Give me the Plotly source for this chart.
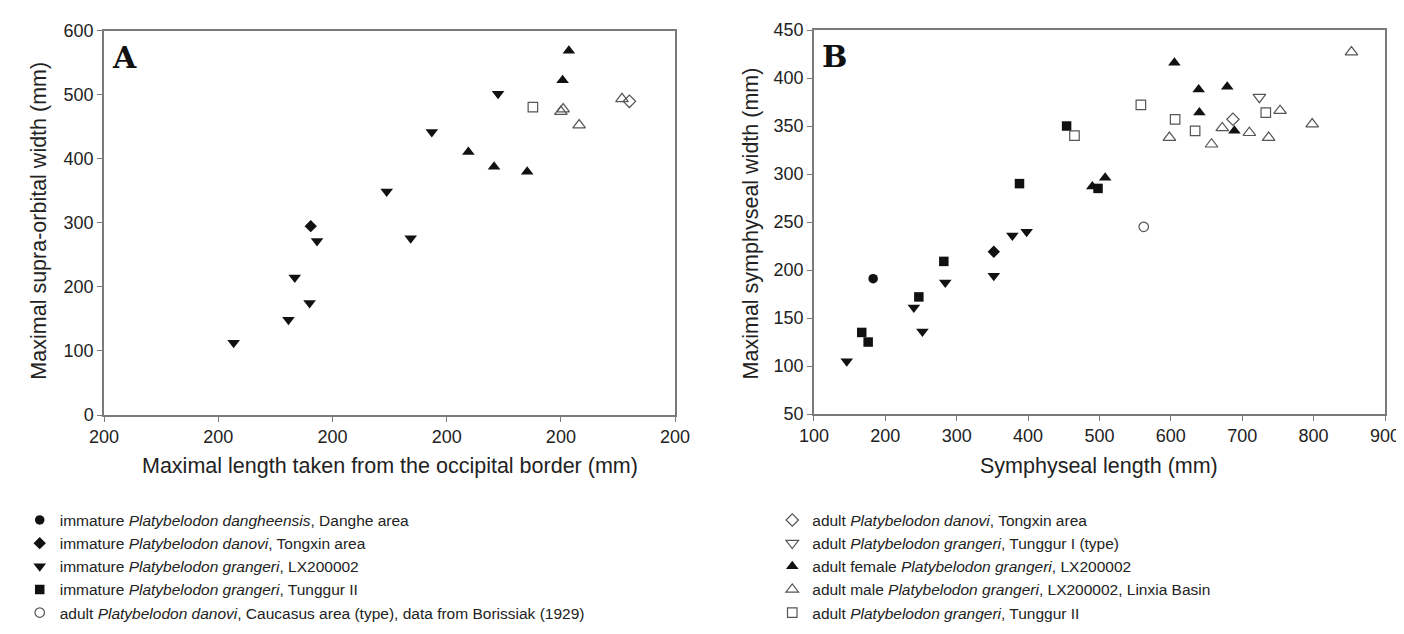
import plotly.graph_objects as go

# ---------------- data ----------------
labels = [
    "immature <i>Platybelodon dangheensis</i>, Danghe area",
    "immature <i>Platybelodon danovi</i>, Tongxin area",
    "immature <i>Platybelodon grangeri</i>, LX200002",
    "immature <i>Platybelodon grangeri</i>, Tunggur II",
    "adult <i>Platybelodon danovi</i>, Caucasus area (type), data from Borissiak (1929)",
    "adult <i>Platybelodon danovi</i>, Tongxin area",
    "adult <i>Platybelodon grangeri</i>, Tunggur I (type)",
    "adult female <i>Platybelodon grangeri</i>, LX200002",
    "adult male <i>Platybelodon grangeri</i>, LX200002, Linxia Basin",
    "adult <i>Platybelodon grangeri</i>, Tunggur II",
]
symbols = ["circle", "diamond", "triangle-down", "square", "circle-open",
           "diamond-open", "triangle-down-open", "triangle-up", "triangle-up-open", "square-open"]

# Panel A: maximal length from occipital border (x) vs supra-orbital width (y)
a_x = [[], [562], [427, 523, 534, 560, 573, 695, 737, 774, 890], [], [],
       [1120], [], [838, 883, 941, 1003, 1014], [1000, 1004, 1032, 1107], [951]]
a_y = [[], [295], [113, 149, 215, 175, 272, 349, 276, 442, 502], [], [],
       [490], [], [411, 388, 380, 523, 569], [474, 478, 453, 494], [481]]

# Panel B: symphyseal length (x) vs symphyseal width (y)
b_x = [[183], [352], [146, 240, 252, 284, 352, 378, 398],
       [167, 176, 247, 282, 388, 454, 498], [562], [687], [724],
       [490, 508, 605, 639, 640, 679, 689],
       [598, 657, 672, 710, 737, 753, 798, 853],
       [465, 558, 606, 634, 733]]
b_y = [[191], [219], [105, 161, 136, 187, 194, 236, 240],
       [135, 125, 172, 209, 290, 350, 285], [245], [357], [380],
       [287, 296, 416, 388, 364, 391, 345],
       [338, 331, 348, 343, 338, 366, 352, 427],
       [340, 372, 357, 345, 364]]

a_ticks = [200, 400, 600, 800, 1000, 1200]
a_ticktext = ["200", "200", "200", "200", "200", "200"]
b_xticks = [100, 200, 300, 400, 500, 600, 700, 800, 900]

# ---------------- figure ----------------
W, H = 1404, 634
ml, mr, mt, mb = 85, 27, 16, 213
pw = W - ml - mr
ph = H - mt - mb

def px_x(p):
    return (p - ml) / pw

def px_y(p):
    return (H - mb - p) / ph

fig = go.Figure()
font_fam = "Liberation Sans, Arial, sans-serif"
black = "#111111"
grey = "#555555"

for i, (lab, sym) in enumerate(zip(labels, symbols)):
    is_open = sym.endswith("open")
    is_tri = "triangle" in sym
    msize = 11 if is_tri else 9.5
    marker = dict(symbol=sym, size=msize,
                  color=grey if is_open else black,
                  line=dict(width=1.2 if is_open else 0, color=grey if is_open else black))
    if a_x[i]:
        fig.add_trace(go.Scatter(x=a_x[i], y=a_y[i], mode="markers", marker=marker,
                                 xaxis="x", yaxis="y", showlegend=False, name=lab))
    fig.add_trace(go.Scatter(x=b_x[i], y=b_y[i], mode="markers", marker=marker,
                             xaxis="x2", yaxis="y2", name=lab, showlegend=True,
                             legend="legend" if i < 5 else "legend2"))

axis_common = dict(showline=True, linecolor="#7a7a7a", linewidth=1.5, mirror=True,
                   ticks="outside", ticklen=5, tickcolor="#7a7a7a", tickwidth=1.2,
                   showgrid=False, zeroline=False,
                   tickfont=dict(family=font_fam, size=18, color="#222222"))

fig.update_layout(
    width=W, height=H,
    margin=dict(l=ml, r=mr, t=mt, b=mb),
    paper_bgcolor="white", plot_bgcolor="white",
    xaxis=dict(domain=[0, px_x(661)], range=[200, 1200], tickvals=a_ticks,
               ticktext=a_ticktext, anchor="y", **axis_common),
    yaxis=dict(domain=[0, px_y(17)], range=[0, 600], dtick=100, anchor="x", **axis_common),
    xaxis2=dict(domain=[px_x(801), 1], range=[100, 900], tickvals=b_xticks,
                anchor="y2", **axis_common),
    yaxis2=dict(domain=[px_y(420), 1], range=[50, 450], dtick=50, anchor="x2", **axis_common),
    legend=dict(x=px_x(0), y=px_y(514), xanchor="left", yanchor="top",
                font=dict(family=font_fam, size=15.5, color="#222222"),
                bgcolor="rgba(0,0,0,0)", borderwidth=0, tracegroupgap=0),
    legend2=dict(x=px_x(759), y=px_y(514), xanchor="left", yanchor="top",
                 font=dict(family=font_fam, size=15.5, color="#222222"),
                 bgcolor="rgba(0,0,0,0)", borderwidth=0, tracegroupgap=0),
)

ann_font = dict(family=font_fam, size=21.5, color="#222222")
fig.add_annotation(text="Maximal length taken from the occipital border (mm)",
                   x=px_x(373), y=px_y(475), xref="paper", yref="paper",
                   showarrow=False, font=ann_font, xanchor="center", yanchor="middle")
fig.add_annotation(text="Symphyseal length (mm)",
                   x=px_x(1089), y=px_y(475), xref="paper", yref="paper",
                   showarrow=False, font=ann_font, xanchor="center", yanchor="middle")
fig.add_annotation(text="Maximal supra-orbital width (mm)",
                   x=px_x(20), y=px_y(217), xref="paper", yref="paper", textangle=-90,
                   showarrow=False, font=ann_font, xanchor="center", yanchor="middle")
fig.add_annotation(text="Maximal symphyseal width (mm)",
                   x=px_x(738), y=px_y(219), xref="paper", yref="paper", textangle=-90,
                   showarrow=False, font=ann_font, xanchor="center", yanchor="middle")

panel_font = dict(family="DejaVu Serif, serif", size=30, color="#111111")
fig.add_annotation(text="<b>A</b>", x=px_x(91), y=px_y(24), xref="paper", yref="paper",
                   showarrow=False, font=panel_font, xanchor="left", yanchor="top")
fig.add_annotation(text="<b>B</b>", x=px_x(807), y=px_y(23), xref="paper", yref="paper",
                   showarrow=False, font=panel_font, xanchor="left", yanchor="top")

fig.write_html("out.html")
